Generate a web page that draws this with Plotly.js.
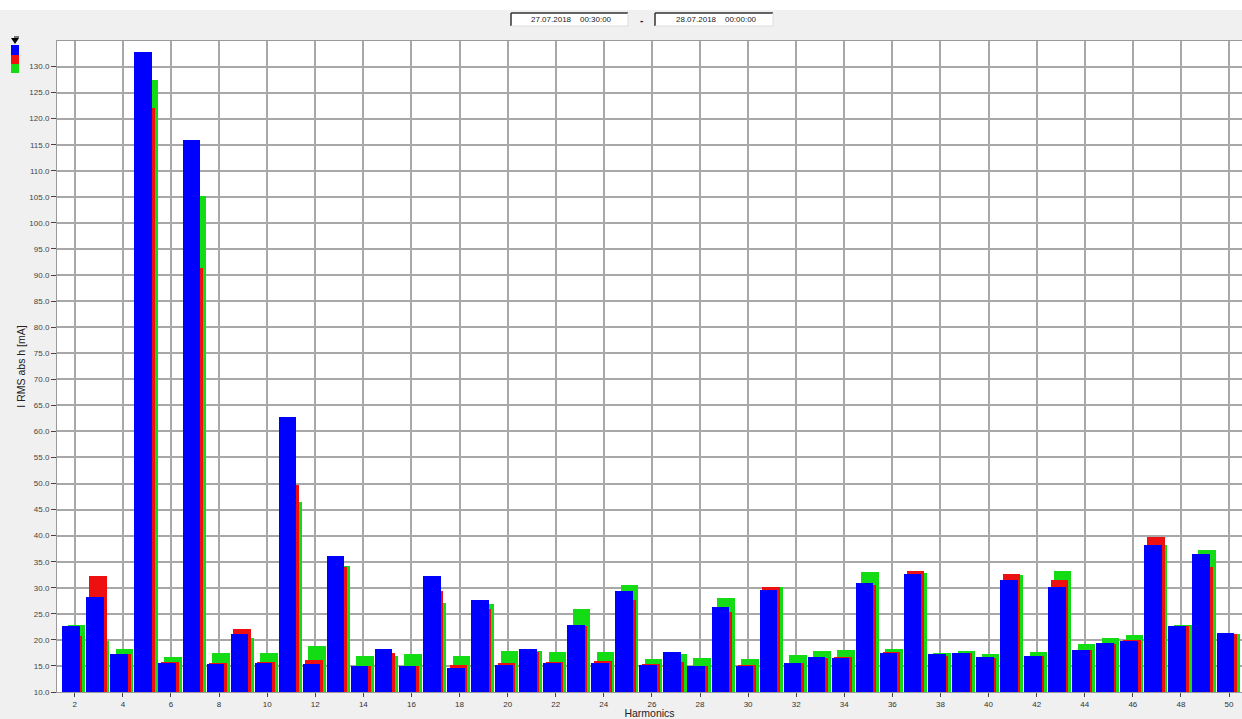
<!DOCTYPE html>
<html>
<head>
<meta charset="utf-8">
<script src="https://cdn.plot.ly/plotly-3.0.1.min.js"></script>
<style>
html,body{margin:0;padding:0;background:#f0f0f0;}
#chart{width:1242px;height:719px;}
</style>
</head>
<body>
<div id="chart"></div>
<script>
// Harmonic orders
const harmonics = [2,3,4,5,6,7,8,9,10,11,12,13,14,15,16,17,18,19,20,21,22,23,24,25,26,27,28,29,30,31,32,33,34,35,36,37,38,39,40,41,42,43,44,45,46,47,48,49,50];
// I RMS abs h [mA] per phase
const blueValues = [22.7,28.3,17.2,132.8,15.6,115.9,15.4,21.2,15.6,62.7,15.4,36.1,14.9,18.3,14.9,32.2,14.7,27.7,15.1,18.3,15.5,22.9,15.5,29.3,15.2,17.6,15.0,26.3,15.0,29.6,15.6,16.7,16.6,31.0,17.5,32.6,17.2,17.5,16.7,31.5,16.9,30.1,18.0,19.4,19.8,38.3,22.6,36.4,21.4];
const redValues = [20.8,32.2,17.2,122.0,15.7,91.4,15.5,22.0,15.7,49.7,16.2,34.0,15.0,17.5,15.0,29.4,15.25,26.0,15.6,17.6,15.8,22.7,16.0,27.6,15.3,15.8,15.0,25.4,15.2,30.2,15.6,16.6,16.8,30.6,17.6,33.3,16.9,17.4,16.6,32.7,16.9,31.4,18.0,19.2,19.9,39.8,22.6,33.9,21.1];
const greenValues = [22.9,19.7,18.2,127.4,16.7,105.25,17.4,20.4,17.5,46.5,18.9,34.2,17.0,17.0,17.3,27.1,17.0,26.9,17.9,17.9,17.6,26.0,17.7,30.5,16.4,17.2,16.6,28.1,16.3,30.2,17.1,17.8,18.1,33.0,18.3,32.8,17.5,17.8,17.2,32.5,17.7,33.3,19.2,20.4,20.9,38.3,22.9,37.3,21.1];
const dateFrom = "27.07.2018    00:30:00";
const dateTo = "28.07.2018    00:00:00";

const W = 1242, H = 719;
const mL = 57, mR = 0, mT = 41, mB = 27;
const pw = W - mL - mR, ph = H - mT - mB;
const px = x => (x - mL) / pw;          // pixel -> paper x
const py = y => (H - mB - y) / ph;       // pixel -> paper y

const barW = 0.73;
function bar(vals, color, offset) {
  return {
    type: 'bar', x: harmonics, y: vals, width: barW, offset: offset,
    marker: {color: color, line: {width: 0}},
    showlegend: false, hoverinfo: 'x+y'
  };
}
const traces = [
  bar(greenValues, '#14dc14', -0.29),
  bar(redValues, '#ee1010', -0.41),
  bar(blueValues, '#0000ff', -0.52)
];

const shapes = [];
const annotations = [];
// white strip at very top
shapes.push({type:'rect', xref:'paper', yref:'paper', x0:px(0), x1:px(W), y0:py(10), y1:py(0), fillcolor:'#ffffff', line:{width:0}, layer:'below'});
// date boxes
function dateBox(x0, x1, y0, y1, text) {
  shapes.push({type:'rect', xref:'paper', yref:'paper', x0:px(x0), x1:px(x1), y0:py(y1), y1:py(y0), fillcolor:'#ffffff', line:{width:0}});
  shapes.push({type:'line', xref:'paper', yref:'paper', x0:px(x0), x1:px(x1), y0:py(y0), y1:py(y0), line:{color:'#333333', width:1.5}});
  shapes.push({type:'line', xref:'paper', yref:'paper', x0:px(x0), x1:px(x0), y0:py(y0), y1:py(y1), line:{color:'#333333', width:1.5}});
  shapes.push({type:'line', xref:'paper', yref:'paper', x0:px(x0), x1:px(x1), y0:py(y1), y1:py(y1), line:{color:'#dddddd', width:1}});
  shapes.push({type:'line', xref:'paper', yref:'paper', x0:px(x1), x1:px(x1), y0:py(y0), y1:py(y1), line:{color:'#dddddd', width:1}});
  annotations.push({xref:'paper', yref:'paper', x:px((x0+x1)/2+2), y:py((y0+y1)/2), text:text, showarrow:false, xanchor:'center', yanchor:'middle', font:{size:8, color:'#222', family:'Liberation Sans, Arial, sans-serif'}});
}
dateBox(511, 628, 13, 26, dateFrom);
dateBox(655, 773, 13, 26, dateTo);
annotations.push({xref:'paper', yref:'paper', x:px(641), y:py(20), text:'<b>-</b>', showarrow:false, xanchor:'center', yanchor:'middle', font:{size:10, color:'#222', family:'Liberation Sans, Arial, sans-serif'}});
// legend colour keys at top-left
const keys = [['#0000ff',45,55],['#ee1010',55,64],['#14dc14',64,73]];
keys.forEach(k => shapes.push({type:'rect', xref:'paper', yref:'paper', x0:px(11), x1:px(19), y0:py(k[2]), y1:py(k[1]), fillcolor:k[0], line:{width:0}}));
shapes.push({type:'path', xref:'paper', yref:'paper', path:`M ${px(11)} ${py(38)} L ${px(19)} ${py(38)} L ${px(15)} ${py(44)} Z`, fillcolor:'#000000', line:{width:0}});
shapes.push({type:'line', xref:'paper', yref:'paper', x0:px(14), x1:px(19), y0:py(37), y1:py(37), line:{color:'#000', width:1}});

const layout = {
  width: W, height: H,
  margin: {l: mL, r: mR, t: mT, b: mB, pad: 0},
  paper_bgcolor: '#f0f0f0', plot_bgcolor: '#ffffff',
  barmode: 'overlay', bargap: 0,
  font: {family: 'Liberation Sans, Arial, sans-serif', size: 8, color: '#333'},
  xaxis: {
    range: [1.26, 50.54], tick0: 2, dtick: 2, tickmode: 'linear',
    showgrid: true, gridcolor: '#a8a8a8', gridwidth: 1.5,
    ticks: 'outside', ticklen: 4, tickcolor: '#444', tickwidth: 1,
    tickfont: {size: 8, color: '#333'},
    showline: true, linecolor: '#999', linewidth: 1, mirror: true,
    zeroline: false, automargin: false,
    title: {text: 'Harmonics', font: {size: 10.5, color: '#222'}, standoff: 5}
  },
  yaxis: {
    range: [10, 134.9], tick0: 10, dtick: 5, tickmode: 'linear', tickformat: '.1f',
    showgrid: true, gridcolor: '#a8a8a8', gridwidth: 1.5,
    ticks: 'outside', ticklen: 5, tickcolor: '#444', tickwidth: 1,
    tickfont: {size: 8, color: '#444'},
    showline: true, linecolor: '#999', linewidth: 1,
    zeroline: false, automargin: false,
    title: {text: 'I RMS abs h [mA]', font: {size: 10.5, color: '#222'}, standoff: 1}
  },
  shapes: shapes,
  annotations: annotations
};

Plotly.newPlot('chart', traces, layout, {displayModeBar: false, responsive: false});
</script>
</body>
</html>
